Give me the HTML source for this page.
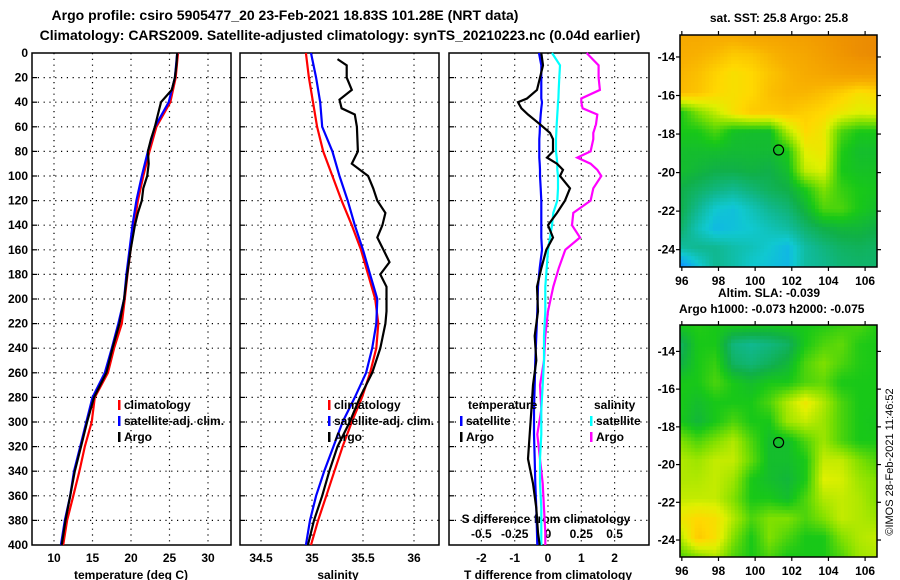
<!DOCTYPE html>
<html><head><meta charset="utf-8"><style>
html,body{margin:0;padding:0;background:#fff;}
svg{display:block;font-family:"Liberation Sans",sans-serif;font-weight:bold;}
</style></head><body>
<svg id="chart" width="900" height="580" viewBox="0 0 900 580" xmlns="http://www.w3.org/2000/svg">
<text x="285" y="20" font-size="14" text-anchor="middle">Argo profile: csiro 5905477_20 23-Feb-2021 18.83S 101.28E (NRT data)</text>
<text x="340" y="40" font-size="14" text-anchor="middle">Climatology: CARS2009. Satellite-adjusted climatology: synTS_20210223.nc (0.04d earlier)</text>
<g id="g1"></g>
<g id="g2"></g>
<g id="g3"></g>
<g id="m1"></g>
<g id="m2"></g>
<text x="779" y="22" font-size="12" text-anchor="middle">sat. SST: 25.8 Argo: 25.8</text>
<text x="718" y="297" font-size="12">Altim. SLA: -0.039</text>
<text x="679" y="313" font-size="12">Argo h1000: -0.073 h2000: -0.075</text>
<text x="0" y="0" font-size="11" font-weight="normal" text-anchor="middle" transform="translate(893,462) rotate(-90)">©IMOS 28-Feb-2021 11:46:52</text>
</svg>
<script>
// ---- data ----
const tDepth = [0,20,40,60,80,100,120,140,160,180,200,220,240,260,280,300,320,340,360,380,400];
const tClim = [26.1,25.8,25.1,23.3,22.4,21.6,20.9,20.4,19.95,19.55,19.2,18.8,17.8,17.0,15.3,14.9,14.0,13.3,12.5,11.7,11.2];
const tSat = [26.0,25.7,24.9,23.1,22.2,21.4,20.7,20.2,19.8,19.4,19.1,18.35,17.5,16.6,15.0,14.2,13.4,12.6,12.1,11.4,10.9];
const tArgoDepth = [0,10,20,30,35,40,50,60,70,80,90,100,110,120,130,140,160,180,200,220,240,260,280,300,320,340,360,380,400];
const tArgo = [26.0,25.9,25.7,25.3,24.6,23.9,23.5,23.1,22.6,22.2,22.3,22.1,21.6,21.4,20.9,20.5,19.95,19.5,19.1,18.5,17.6,16.8,15.2,14.3,13.5,12.7,12.1,11.5,11.0];
const sClim = [34.94,34.97,35.01,35.05,35.11,35.2,35.29,35.39,35.48,35.55,35.62,35.65,35.63,35.57,35.49,35.39,35.3,35.22,35.14,35.06,34.99];
const sSat = [34.99,35.04,35.08,35.1,35.2,35.27,35.35,35.42,35.5,35.57,35.64,35.63,35.59,35.53,35.42,35.3,35.21,35.12,35.04,34.98,34.94];
const sArgoDepth = [5,10,20,30,38,45,50,60,80,90,100,110,120,130,140,150,160,170,180,190,200,210,220,240,260,280,300,320,340,360,380,400];
const sArgo = [35.25,35.34,35.34,35.39,35.27,35.29,35.42,35.44,35.45,35.39,35.55,35.6,35.64,35.72,35.69,35.64,35.7,35.76,35.67,35.73,35.73,35.73,35.72,35.67,35.59,35.47,35.37,35.25,35.17,35.1,35.02,34.96];
const dDepth = [0,10,20,30,37,40,45,50,58,65,70,80,85,90,95,100,110,120,130,140,150,160,175,190,210,230,250,270,290,310,330,350,370,390,400];
const dTSat = [-0.27,-0.2,-0.2,-0.2,-0.2,-0.18,-0.2,-0.22,-0.24,-0.25,-0.26,-0.26,-0.26,-0.25,-0.24,-0.24,-0.22,-0.2,-0.2,-0.2,-0.2,-0.18,-0.25,-0.3,-0.32,-0.35,-0.38,-0.4,-0.42,-0.42,-0.4,-0.38,-0.35,-0.33,-0.32];
const dTArgo = [-0.2,-0.15,-0.24,-0.33,-0.63,-0.9,-0.8,-0.6,-0.24,0.06,0.15,0.15,-0.03,0.27,0.45,0.36,0.66,0.51,0.27,0,0.15,-0.05,-0.2,-0.33,-0.3,-0.4,-0.35,-0.45,-0.5,-0.55,-0.6,-0.45,-0.35,-0.3,-0.25];
const dSSat = [0.03,0.09,0.085,0.08,0.078,0.075,0.073,0.07,0.065,0.062,0.06,0.06,0.065,0.07,0.07,0.075,0.075,0.07,0.04,0.03,0.015,0.0,-0.01,-0.02,-0.02,-0.03,-0.03,-0.04,-0.05,-0.05,-0.06,-0.06,-0.05,-0.05,-0.05];
const dSArgo = [0.29,0.38,0.38,0.39,0.25,0.25,0.26,0.37,0.36,0.34,0.34,0.32,0.22,0.32,0.37,0.4,0.34,0.32,0.19,0.18,0.24,0.13,0.08,0.04,0.0,-0.02,-0.03,-0.06,-0.05,-0.08,-0.06,-0.04,-0.03,-0.02,-0.02];
const depthTicks = [0,20,40,60,80,100,120,140,160,180,200,220,240,260,280,300,320,340,360,380,400];
const tTicks = [10,15,20,25,30];
const sTicks = ["34.5","35","35.5","36"];
const dTTicks = ["-2","-1","0","1","2"];
const dSTicks = ["-0.5","-0.25","0","0.25","0.5"];
const lonTicks = [96,98,100,102,104,106];
const latTicks = [-14,-16,-18,-20,-22,-24];
const sstGrid = [
[0.83,0.83,0.82,0.82,0.84,0.85,0.86,0.87,0.89,0.91,0.92,0.93],
[0.81,0.8,0.78,0.75,0.76,0.79,0.82,0.84,0.87,0.9,0.92,0.93],
[0.79,0.77,0.73,0.7,0.72,0.76,0.79,0.82,0.84,0.86,0.87,0.87],
[0.78,0.76,0.72,0.7,0.72,0.77,0.79,0.79,0.77,0.74,0.7,0.72],
[0.45,0.55,0.62,0.7,0.75,0.75,0.76,0.74,0.72,0.68,0.65,0.66],
[0.45,0.45,0.5,0.43,0.42,0.42,0.6,0.72,0.68,0.5,0.45,0.45],
[0.42,0.42,0.42,0.41,0.41,0.41,0.45,0.66,0.68,0.46,0.42,0.42],
[0.42,0.4,0.38,0.38,0.39,0.38,0.42,0.62,0.65,0.45,0.43,0.43],
[0.38,0.35,0.32,0.3,0.33,0.36,0.38,0.45,0.55,0.48,0.45,0.44],
[0.38,0.3,0.22,0.2,0.25,0.3,0.33,0.4,0.5,0.5,0.45,0.42],
[0.35,0.25,0.18,0.2,0.22,0.25,0.28,0.34,0.38,0.4,0.4,0.38],
[0.28,0.3,0.3,0.27,0.25,0.22,0.18,0.28,0.32,0.35,0.36,0.35],
[0.08,0.2,0.3,0.27,0.22,0.2,0.18,0.28,0.3,0.33,0.34,0.34]];
const slaGrid = [
[0.45,0.46,0.45,0.45,0.45,0.44,0.45,0.45,0.46,0.48,0.5,0.46],
[0.35,0.45,0.45,0.32,0.3,0.32,0.35,0.45,0.5,0.52,0.46,0.45],
[0.38,0.45,0.48,0.35,0.33,0.36,0.4,0.5,0.55,0.5,0.46,0.45],
[0.45,0.45,0.5,0.45,0.42,0.45,0.45,0.5,0.52,0.45,0.45,0.45],
[0.45,0.42,0.45,0.45,0.45,0.5,0.6,0.68,0.6,0.5,0.45,0.45],
[0.45,0.4,0.45,0.5,0.45,0.45,0.58,0.62,0.58,0.5,0.45,0.44],
[0.55,0.5,0.55,0.6,0.5,0.42,0.42,0.5,0.58,0.5,0.45,0.45],
[0.6,0.58,0.62,0.62,0.52,0.42,0.42,0.45,0.62,0.62,0.55,0.5],
[0.6,0.6,0.62,0.58,0.45,0.42,0.4,0.45,0.65,0.64,0.58,0.55],
[0.62,0.62,0.62,0.55,0.45,0.45,0.42,0.5,0.6,0.62,0.6,0.55],
[0.68,0.72,0.7,0.6,0.5,0.55,0.55,0.5,0.55,0.62,0.6,0.58],
[0.6,0.75,0.7,0.55,0.45,0.55,0.5,0.45,0.45,0.55,0.6,0.62],
[0.5,0.55,0.6,0.5,0.45,0.5,0.45,0.45,0.45,0.5,0.58,0.6]];

const NS = "http://www.w3.org/2000/svg";
function mk(parent, tag, attrs, text){const e=document.createElementNS(NS,tag);for(const k in attrs)e.setAttribute(k,attrs[k]);if(text!==undefined)e.textContent=text;parent.appendChild(e);return e;}

const TOP=53, BOT=545;
const yD = d => TOP + d*(BOT-TOP)/400;
const xT = t => 54 + (t-10)*7.7;
const xS = s => 312 + (s-35)*102;
const xDT = v => 548 + v*33.3;
const xDS = v => 548 + v*133.2;

function frame(g, x0, x1, gridX, name){
  for (const d of depthTicks){ if(d===0||d===400) continue;
    const l = mk(g,'line',{x1:x0,x2:x1,y1:yD(d),y2:yD(d),stroke:'#000','stroke-width':1.2,'stroke-dasharray':'1.2 4.6'});
     
    const tk = mk(g,'line',{x1:x0,x2:x0+5,y1:yD(d),y2:yD(d),stroke:'#000','stroke-width':1.2});
     
  }
  for (const x of gridX){
    const l = mk(g,'line',{x1:x,x2:x,y1:TOP,y2:BOT,stroke:'#000','stroke-width':1.2,'stroke-dasharray':'1.2 4.6'});
     
  }
  const r = mk(g,'rect',{x:x0,y:TOP,width:x1-x0,height:BOT-TOP,fill:'none',stroke:'#000','stroke-width':1.5});
   
}
function line(g, xs, ds, fx, color, name){
  const pts = xs.map((v,i)=>fx(v).toFixed(1)+','+yD(ds[i]).toFixed(1)).join(' ');
  const p = mk(g,'polyline',{points:pts,fill:'none',stroke:color,'stroke-width':2.2,'stroke-linejoin':'miter'});
   
}
function legend(g, x, y, color, label){
  const b = mk(g,'rect',{x:x,y:y-9,width:2.5,height:10,fill:color});
   
  const t = mk(g,'text',{x:x+6,y:y,'font-size':12},label);
   
}
function label(g, x, y, txt, anchor, size, name){
  const t = mk(g,'text',{x:x,y:y,'font-size':size||12,'text-anchor':anchor||'middle'},txt);
   
  return t;
}

// Panel 1 temperature
const g1=document.getElementById('g1');
frame(g1,32,231,tTicks.map(xT),'temperature-panel');
for (const d of depthTicks) label(g1,28,yD(d)+4,String(d),'end',12,'depth-tick-label');
for (const t of tTicks) label(g1,xT(t),562,String(t),'middle',12,'temperature-tick-label');
label(g1,131,579,'temperature (deg C)','middle',12,'temperature-axis-title');
line(g1,tClim,tDepth,xT,'#ff0000','temperature-climatology-line');
line(g1,tSat,tDepth,xT,'#0000ff','temperature-satellite-line');
line(g1,tArgo,tArgoDepth,xT,'#000000','temperature-argo-line');
legend(g1,118,409,'#ff0000','climatology');
legend(g1,118,425,'#0000ff','satellite-adj. clim.');
legend(g1,118,441,'#000000','Argo');

// Panel 2 salinity
const g2=document.getElementById('g2');
const sTickVals = sTicks.map(Number);
frame(g2,240,439,sTickVals.map(xS),'salinity-panel');
sTicks.forEach(s=>label(g2,xS(Number(s)),562,s,'middle',12,'salinity-tick-label'));
label(g2,338,579,'salinity','middle',12,'salinity-axis-title');
line(g2,sClim,tDepth,xS,'#ff0000','salinity-climatology-line');
line(g2,sSat,tDepth,xS,'#0000ff','salinity-satellite-line');
line(g2,sArgo,sArgoDepth,xS,'#000000','salinity-argo-line');
legend(g2,328,409,'#ff0000','climatology');
legend(g2,328,425,'#0000ff','satellite-adj. clim.');
legend(g2,328,441,'#000000','Argo');

// Panel 3 differences
const g3=document.getElementById('g3');
frame(g3,449,649,dTTicks.map(v=>xDT(Number(v))),'difference-panel');
dTTicks.forEach(v=>label(g3,xDT(Number(v)),562,v,'middle',12,'t-difference-tick-label'));
label(g3,548,579,'T difference from climatology','middle',12,'t-difference-axis-title');
dSTicks.forEach(v=>label(g3,xDS(Number(v)),538,v,'middle',12,'s-difference-tick-label'));
label(g3,546,523,'S difference from climatology','middle',12,'s-difference-axis-title');
line(g3,dSArgo,dDepth,xDS,'#ff00ff','salinity-argo-difference-line');
line(g3,dSSat,dDepth,xDS,'#00ffff','salinity-satellite-difference-line');
line(g3,dTSat,dDepth,xDT,'#0000ff','temperature-satellite-difference-line');
line(g3,dTArgo,dDepth,xDT,'#000000','temperature-argo-difference-line');
label(g3,468,409,'temperature','start',12,'temperature-legend-heading');
legend(g3,460,425,'#0000ff','satellite');
legend(g3,460,441,'#000000','Argo');
label(g3,594,409,'salinity','start',12,'salinity-legend-heading');
legend(g3,590,425,'#00ffff','satellite');
legend(g3,590,441,'#ff00ff','Argo');

// Maps
const stops=[[0,[8,80,224]],[0.12,[16,160,255]],[0.22,[16,200,208]],[0.3,[16,184,144]],[0.38,[16,176,72]],[0.45,[24,200,24]],[0.55,[128,224,0]],[0.65,[224,240,0]],[0.72,[255,216,0]],[0.8,[248,176,0]],[0.9,[240,150,0]],[1,[220,110,10]]];
function cmap(v){v=Math.max(0,Math.min(1,v));for(let i=1;i<stops.length;i++){if(v<=stops[i][0]){const a=stops[i-1],b=stops[i],f=(v-a[0])/(b[0]-a[0]);return 'rgb('+a[1].map((c,k)=>Math.round(c+(b[1][k]-c)*f)).join(',')+')';}}return 'rgb(220,110,10)';}
function drawMap(id, grid, x0, x1, y0, y1, lon0, lon1, lat0, lat1, latTickY, name){
  const g=document.getElementById(id);
  const nx=54, ny=64, cw=(x1-x0)/nx, ch=(y1-y0)/ny;
  const R=grid.length, C=grid[0].length;
  for(let j=0;j<ny;j++)for(let i=0;i<nx;i++){
    const gx=(i+0.5)/nx*(C-1), gy=(j+0.5)/ny*(R-1);
    const ix=Math.min(Math.floor(gx),C-2), iy=Math.min(Math.floor(gy),R-2), fx=gx-ix, fy=gy-iy;
    const v=grid[iy][ix]*(1-fx)*(1-fy)+grid[iy][ix+1]*fx*(1-fy)+grid[iy+1][ix]*(1-fx)*fy+grid[iy+1][ix+1]*fx*fy;
    const r=mk(g,'rect',{x:(x0+i*cw).toFixed(2),y:(y0+j*ch).toFixed(2),width:(cw+0.4).toFixed(2),height:(ch+0.4).toFixed(2),fill:cmap(v)});
     
  }
  const fr=mk(g,'rect',{x:x0,y:y0,width:x1-x0,height:y1-y0,fill:'none',stroke:'#000','stroke-width':1.5});
   
  const lx=v=>x0+(v-lon0)/(lon1-lon0)*(x1-x0);
  const ly=v=>y0+(lat0-v)/(lat0-lat1)*(y1-y0);
  for(const lo of lonTicks){
    const t1=mk(g,'line',{x1:lx(lo),x2:lx(lo),y1:y0-4,y2:y0,stroke:'#000','stroke-width':1.2});
     
    const t2=mk(g,'line',{x1:lx(lo),x2:lx(lo),y1:y1,y2:y1+4,stroke:'#000','stroke-width':1.2});
     
    label(g,lx(lo),y1+18,String(lo),'middle',12,'longitude-tick-label');
  }
  for(const la of latTicks){
    const t1=mk(g,'line',{x1:x0-4,x2:x0,y1:ly(la),y2:ly(la),stroke:'#000','stroke-width':1.2});
     
    const t2=mk(g,'line',{x1:x1,x2:x1+4,y1:ly(la),y2:ly(la),stroke:'#000','stroke-width':1.2});
     
    label(g,x0-5,ly(la)+4,String(la),'end',12,'latitude-tick-label');
  }
  const c=mk(g,'circle',{cx:lx(101.28),cy:ly(-18.83),r:5,fill:'none',stroke:'#000','stroke-width':1.2});
   
}
drawMap('m1',sstGrid,680,877,35,267,95.9,106.65,-12.86,-24.9,0,'sst-map');
drawMap('m2',slaGrid,680,877,325,557,95.9,106.65,-12.6,-24.9,0,'sla-map');
</script>
</body></html>
